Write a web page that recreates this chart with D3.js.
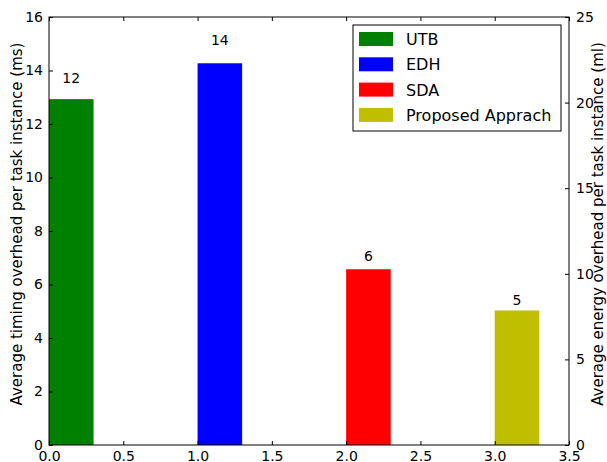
<!DOCTYPE html>
<html><head><meta charset="utf-8">
<script src="https://cdn.jsdelivr.net/npm/d3@7"></script>
<style>body{margin:0;background:#fff}svg{display:block}text{font-family:"DejaVu Sans",sans-serif;fill:#000}</style>
</head><body><svg id="c" width="607" height="462"></svg>
<script>
const categories = ["UTB","EDH","SDA","Proposed Apprach"];
const positions = [0,1,2,3];
const values = [12.93,14.27,6.57,5.03];
const colors = ["#008000","#0000ff","#ff0000","#bfbf00"];
const xTicks = [0,0.5,1,1.5,2,2.5,3,3.5];
const yLeftTicks = [0,2,4,6,8,10,12,14,16];
const yRightTicks = [0,5,10,15,20,25];
const barWidth = 0.3;

const svg = d3.select("#c");
const L=49, R=569, T=17, B=445;
const x = d3.scaleLinear().domain([0,3.5]).range([L,R]);
const y = d3.scaleLinear().domain([0,16]).range([B,T]);
const y2 = d3.scaleLinear().domain([0,25]).range([B,T]);

// bars
svg.selectAll("rect.bar").data(values).join("rect")
  .attr("x",(d,i)=>x(positions[i])).attr("width",(d,i)=>x(positions[i]+barWidth)-x(positions[i]))
  .attr("y",d=>y(d)).attr("height",d=>B-y(d)).attr("fill",(d,i)=>colors[i]);
svg.selectAll("text.lab").data(values).join("text")
  .attr("x",(d,i)=>x(positions[i]+barWidth/2)).attr("y",d=>y(1.05*d)+1)
  .attr("text-anchor","middle").attr("font-size",14).text(d=>Math.floor(d));

// frame
svg.append("rect").attr("x",L).attr("y",T).attr("width",R-L).attr("height",B-T)
  .attr("fill","none").attr("stroke","#000").attr("stroke-width",1);

const tk=4;
svg.append("g").attr("transform",`translate(0,${B})`)
  .call(d3.axisBottom(x).tickValues(xTicks).tickFormat(d3.format(".1f")).tickSize(-tk).tickPadding(6));
svg.append("g").attr("transform",`translate(0,${T})`)
  .call(d3.axisTop(x).tickValues(xTicks).tickFormat("").tickSize(-tk));
svg.append("g").attr("transform",`translate(${L},0)`)
  .call(d3.axisLeft(y).tickValues(yLeftTicks).tickFormat(d3.format("d")).tickSize(-tk).tickPadding(6));
svg.append("g").attr("transform",`translate(${R},0)`)
  .call(d3.axisRight(y2).tickValues(yRightTicks).tickFormat(d3.format("d")).tickSize(-tk).tickPadding(7));
svg.selectAll(".domain").remove();
svg.selectAll(".tick line").attr("stroke","#000");
svg.selectAll(".tick text").attr("font-size",14).attr("font-family","DejaVu Sans").attr("fill","#000");

// axis labels
svg.append("text").attr("transform","translate(22,224) rotate(-90)").attr("text-anchor","middle")
  .attr("font-size",15).text("Average timing overhead per task instance (ms)");
svg.append("text").attr("transform","translate(603,224) rotate(-90)").attr("text-anchor","middle")
  .attr("font-size",15).text("Average energy overhead per task instance (ml)");

// legend
const lg = svg.append("g");
lg.append("rect").attr("x",353).attr("y",25).attr("width",208).attr("height",106)
  .attr("fill","#fff").attr("stroke","#000").attr("stroke-width",1);
categories.forEach((c,i)=>{
  const cy = 39 + i*25.3;
  lg.append("rect").attr("x",359).attr("y",cy-7).attr("width",34).attr("height",14).attr("fill",colors[i]);
  lg.append("text").attr("x",406).attr("y",cy+6).attr("font-size",16).text(c);
});
</script></body></html>
